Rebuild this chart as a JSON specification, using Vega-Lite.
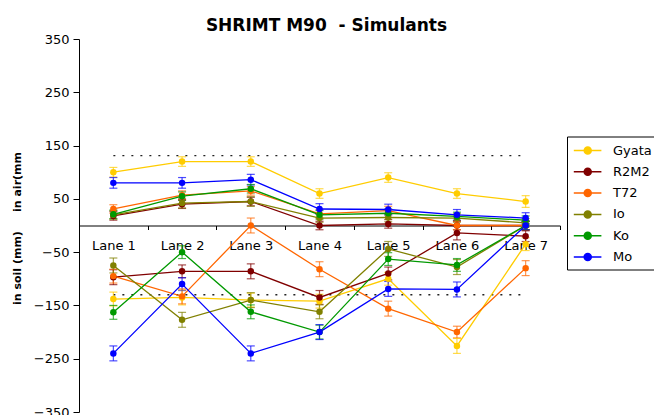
{
  "$schema": "https://vega.github.io/schema/vega-lite/v6.json",
  "width": 481,
  "height": 373,
  "autosize": {"type": "none"},
  "padding": {"left": 79, "top": 39, "right": 94, "bottom": 3},
  "background": "white",
  "config": {"font": "DejaVu Sans", "view": {"stroke": null}},
  "title": {"text": "SHRIMT M90\u00a0 - Simulants", "font": "DejaVu Sans", "fontSize": 17, "fontWeight": "bold", "anchor": "middle", "offset": -2, "dx": 7, "color": "black"},
  "datasets": {
    "pts": [
      {"lane":"Lane 1","s":"Gyata","g":"air","v":100,"lo":91,"hi":109},
      {"lane":"Lane 2","s":"Gyata","g":"air","v":120,"lo":111,"hi":129},
      {"lane":"Lane 3","s":"Gyata","g":"air","v":120,"lo":111,"hi":129},
      {"lane":"Lane 4","s":"Gyata","g":"air","v":60,"lo":51,"hi":69},
      {"lane":"Lane 5","s":"Gyata","g":"air","v":90,"lo":81,"hi":99},
      {"lane":"Lane 6","s":"Gyata","g":"air","v":60,"lo":51,"hi":69},
      {"lane":"Lane 7","s":"Gyata","g":"air","v":45,"lo":34,"hi":56},
      {"lane":"Lane 1","s":"R2M2","g":"air","v":18,"lo":10,"hi":26},
      {"lane":"Lane 2","s":"R2M2","g":"air","v":40,"lo":32,"hi":48},
      {"lane":"Lane 3","s":"R2M2","g":"air","v":45,"lo":37,"hi":53},
      {"lane":"Lane 4","s":"R2M2","g":"air","v":0,"lo":-8,"hi":8},
      {"lane":"Lane 5","s":"R2M2","g":"air","v":3,"lo":-5,"hi":11},
      {"lane":"Lane 6","s":"R2M2","g":"air","v":0,"lo":-8,"hi":8},
      {"lane":"Lane 7","s":"R2M2","g":"air","v":0,"lo":-8,"hi":8},
      {"lane":"Lane 1","s":"T72","g":"air","v":31,"lo":23,"hi":39},
      {"lane":"Lane 2","s":"T72","g":"air","v":57,"lo":49,"hi":65},
      {"lane":"Lane 3","s":"T72","g":"air","v":65,"lo":57,"hi":73},
      {"lane":"Lane 4","s":"T72","g":"air","v":22,"lo":14,"hi":30},
      {"lane":"Lane 5","s":"T72","g":"air","v":28,"lo":20,"hi":36},
      {"lane":"Lane 6","s":"T72","g":"air","v":0,"lo":-8,"hi":8},
      {"lane":"Lane 7","s":"T72","g":"air","v":0,"lo":-8,"hi":8},
      {"lane":"Lane 1","s":"Io","g":"air","v":20,"lo":12,"hi":28},
      {"lane":"Lane 2","s":"Io","g":"air","v":42,"lo":33,"hi":51},
      {"lane":"Lane 3","s":"Io","g":"air","v":45,"lo":36,"hi":54},
      {"lane":"Lane 4","s":"Io","g":"air","v":14,"lo":6,"hi":22},
      {"lane":"Lane 5","s":"Io","g":"air","v":15,"lo":7,"hi":23},
      {"lane":"Lane 6","s":"Io","g":"air","v":14,"lo":6,"hi":22},
      {"lane":"Lane 7","s":"Io","g":"air","v":5,"lo":-3,"hi":13},
      {"lane":"Lane 1","s":"Ko","g":"air","v":21,"lo":13,"hi":29},
      {"lane":"Lane 2","s":"Ko","g":"air","v":55,"lo":47,"hi":63},
      {"lane":"Lane 3","s":"Ko","g":"air","v":69,"lo":61,"hi":77},
      {"lane":"Lane 4","s":"Ko","g":"air","v":20,"lo":12,"hi":28},
      {"lane":"Lane 5","s":"Ko","g":"air","v":23,"lo":15,"hi":31},
      {"lane":"Lane 6","s":"Ko","g":"air","v":17,"lo":9,"hi":25},
      {"lane":"Lane 7","s":"Ko","g":"air","v":10,"lo":2,"hi":18},
      {"lane":"Lane 1","s":"Mo","g":"air","v":80,"lo":70,"hi":90},
      {"lane":"Lane 2","s":"Mo","g":"air","v":80,"lo":70,"hi":90},
      {"lane":"Lane 3","s":"Mo","g":"air","v":86,"lo":76,"hi":96},
      {"lane":"Lane 4","s":"Mo","g":"air","v":31,"lo":21,"hi":41},
      {"lane":"Lane 5","s":"Mo","g":"air","v":30,"lo":20,"hi":40},
      {"lane":"Lane 6","s":"Mo","g":"air","v":20,"lo":10,"hi":30},
      {"lane":"Lane 7","s":"Mo","g":"air","v":14,"lo":4,"hi":24},
      {"lane":"Lane 1","s":"Gyata","g":"soil","v":-138,"lo":-151,"hi":-125},
      {"lane":"Lane 2","s":"Gyata","g":"soil","v":-135,"lo":-149,"hi":-121},
      {"lane":"Lane 3","s":"Gyata","g":"soil","v":-140,"lo":-153,"hi":-127},
      {"lane":"Lane 4","s":"Gyata","g":"soil","v":-142,"lo":-155,"hi":-129},
      {"lane":"Lane 5","s":"Gyata","g":"soil","v":-100,"lo":-112,"hi":-88},
      {"lane":"Lane 6","s":"Gyata","g":"soil","v":-226,"lo":-240,"hi":-212},
      {"lane":"Lane 7","s":"Gyata","g":"soil","v":-35,"lo":-47,"hi":-23},
      {"lane":"Lane 1","s":"R2M2","g":"soil","v":-97,"lo":-111,"hi":-83},
      {"lane":"Lane 2","s":"R2M2","g":"soil","v":-86,"lo":-98,"hi":-74},
      {"lane":"Lane 3","s":"R2M2","g":"soil","v":-86,"lo":-100,"hi":-72},
      {"lane":"Lane 4","s":"R2M2","g":"soil","v":-135,"lo":-148,"hi":-122},
      {"lane":"Lane 5","s":"R2M2","g":"soil","v":-90,"lo":-102,"hi":-78},
      {"lane":"Lane 6","s":"R2M2","g":"soil","v":-14,"lo":-27,"hi":-1},
      {"lane":"Lane 7","s":"R2M2","g":"soil","v":-20,"lo":-30,"hi":-10},
      {"lane":"Lane 1","s":"T72","g":"soil","v":-95,"lo":-108,"hi":-82},
      {"lane":"Lane 2","s":"T72","g":"soil","v":-133,"lo":-147,"hi":-119},
      {"lane":"Lane 3","s":"T72","g":"soil","v":0,"lo":-14,"hi":14},
      {"lane":"Lane 4","s":"T72","g":"soil","v":-82,"lo":-96,"hi":-68},
      {"lane":"Lane 5","s":"T72","g":"soil","v":-156,"lo":-170,"hi":-142},
      {"lane":"Lane 6","s":"T72","g":"soil","v":-200,"lo":-211,"hi":-189},
      {"lane":"Lane 7","s":"T72","g":"soil","v":-80,"lo":-94,"hi":-66},
      {"lane":"Lane 1","s":"Io","g":"soil","v":-75,"lo":-89,"hi":-61},
      {"lane":"Lane 2","s":"Io","g":"soil","v":-177,"lo":-191,"hi":-163},
      {"lane":"Lane 3","s":"Io","g":"soil","v":-140,"lo":-154,"hi":-126},
      {"lane":"Lane 4","s":"Io","g":"soil","v":-162,"lo":-175,"hi":-149},
      {"lane":"Lane 5","s":"Io","g":"soil","v":-44,"lo":-58,"hi":-30},
      {"lane":"Lane 6","s":"Io","g":"soil","v":-78,"lo":-92,"hi":-64},
      {"lane":"Lane 7","s":"Io","g":"soil","v":0,"lo":-8,"hi":8},
      {"lane":"Lane 1","s":"Ko","g":"soil","v":-163,"lo":-176,"hi":-150},
      {"lane":"Lane 2","s":"Ko","g":"soil","v":-50,"lo":-62,"hi":-38},
      {"lane":"Lane 3","s":"Ko","g":"soil","v":-162,"lo":-175,"hi":-149},
      {"lane":"Lane 4","s":"Ko","g":"soil","v":-200,"lo":-213,"hi":-187},
      {"lane":"Lane 5","s":"Ko","g":"soil","v":-63,"lo":-75,"hi":-51},
      {"lane":"Lane 6","s":"Ko","g":"soil","v":-74,"lo":-86,"hi":-62},
      {"lane":"Lane 7","s":"Ko","g":"soil","v":0,"lo":-8,"hi":8},
      {"lane":"Lane 1","s":"Mo","g":"soil","v":-240,"lo":-254,"hi":-226},
      {"lane":"Lane 2","s":"Mo","g":"soil","v":-110,"lo":-122,"hi":-98},
      {"lane":"Lane 3","s":"Mo","g":"soil","v":-240,"lo":-254,"hi":-226},
      {"lane":"Lane 4","s":"Mo","g":"soil","v":-200,"lo":-214,"hi":-186},
      {"lane":"Lane 5","s":"Mo","g":"soil","v":-119,"lo":-133,"hi":-105},
      {"lane":"Lane 6","s":"Mo","g":"soil","v":-120,"lo":-134,"hi":-106},
      {"lane":"Lane 7","s":"Mo","g":"soil","v":0,"lo":-8,"hi":8}
    ],
    "refs": [
      {"lane":"Lane 1","r":131,"k":"air"},
      {"lane":"Lane 7","r":131,"k":"air"},
      {"lane":"Lane 1","r":-130,"k":"soil"},
      {"lane":"Lane 7","r":-130,"k":"soil"}
    ]
  },
  "layer": [
    {
      "data": {"name": "refs"},
      "mark": {"type": "line", "strokeDash": [2, 7], "color": "#222222", "strokeWidth": 1.3},
      "encoding": {
        "x": {"field": "lane", "type": "nominal", "scale": {"type": "band", "paddingInner": 0, "paddingOuter": 0},
              "axis": {"orient": "bottom", "offset": -186.5, "title": null, "labelAngle": 0, "labelFont": "DejaVu Sans", "labelFontSize": 13, "labelColor": "black", "labelPadding": 10, "tickSize": 4, "tickColor": "black", "domainColor": "black", "tickBand": "extent", "grid": false}},
        "y": {"field": "r", "type": "quantitative", "scale": {"domain": [-350, 350], "nice": false, "zero": false},
              "axis": {"values": [-350, -250, -150, -50, 50, 150, 250, 350], "grid": false, "labelFont": "DejaVu Sans", "labelFontSize": 13, "labelColor": "black", "labelPadding": 4, "labelFlush": false, "tickSize": 6, "tickColor": "black", "domainColor": "black",
                       "title": "in soil (mm)\u00a0\u00a0\u00a0\u00a0\u00a0in air(mm", "titleFont": "DejaVu Sans", "titleFontSize": 11, "titleFontWeight": "bold", "titleColor": "black", "titleX": -57, "titleY": 189}},
        "detail": {"field": "k"}
      }
    },
    {
      "data": {"name": "pts"},
      "mark": {"type": "rule", "strokeWidth": 1.2, "opacity": 0.7},
      "encoding": {
        "x": {"field": "lane", "type": "nominal"},
        "y": {"field": "lo", "type": "quantitative"},
        "y2": {"field": "hi"},
        "color": {"field": "s", "type": "nominal"}
      }
    },
    {
      "data": {"name": "pts"},
      "mark": {"type": "tick", "size": 8, "thickness": 1.2, "opacity": 0.7, "orient": "horizontal"},
      "encoding": {
        "x": {"field": "lane", "type": "nominal"},
        "y": {"field": "lo", "type": "quantitative"},
        "color": {"field": "s", "type": "nominal"}
      }
    },
    {
      "data": {"name": "pts"},
      "mark": {"type": "tick", "size": 8, "thickness": 1.2, "opacity": 0.7, "orient": "horizontal"},
      "encoding": {
        "x": {"field": "lane", "type": "nominal"},
        "y": {"field": "hi", "type": "quantitative"},
        "color": {"field": "s", "type": "nominal"}
      }
    },
    {
      "data": {"name": "pts"},
      "mark": {"type": "line", "strokeWidth": 1.3},
      "encoding": {
        "x": {"field": "lane", "type": "nominal"},
        "y": {"field": "v", "type": "quantitative"},
        "detail": {"field": "g"},
        "color": {"field": "s", "type": "nominal",
                  "scale": {"domain": ["Gyata", "R2M2", "T72", "Io", "Ko", "Mo"], "range": ["#FFCC00", "#800000", "#FF6600", "#808000", "#009900", "#0000FF"]},
                  "legend": {"orient": "none", "legendX": 488, "legendY": 97.5, "title": null,
                             "symbolType": "M-0.9,0L2.55,0M0.4,0A0.44,0.44,0,1,0,1.28,0A0.44,0.44,0,1,0,0.4,0Z",
                             "symbolSize": 256, "symbolStrokeWidth": 1.5,
                             "labelFont": "DejaVu Sans", "labelFontSize": 13, "labelColor": "black", "labelOffset": 23,
                             "rowPadding": 5.3, "padding": 5, "strokeColor": "black", "fillColor": "white",
                             "encode": {"symbols": {"update": {"stroke": {"scale": "color", "field": "value"}, "fill": {"scale": "color", "field": "value"}, "opacity": {"value": 1}, "strokeWidth": {"value": 1.5}}}}}}
      }
    },
    {
      "data": {"name": "pts"},
      "mark": {"type": "point", "filled": true, "size": 42, "opacity": 1},
      "encoding": {
        "x": {"field": "lane", "type": "nominal"},
        "y": {"field": "v", "type": "quantitative"},
        "color": {"field": "s", "type": "nominal"}
      }
    }
  ]
}
